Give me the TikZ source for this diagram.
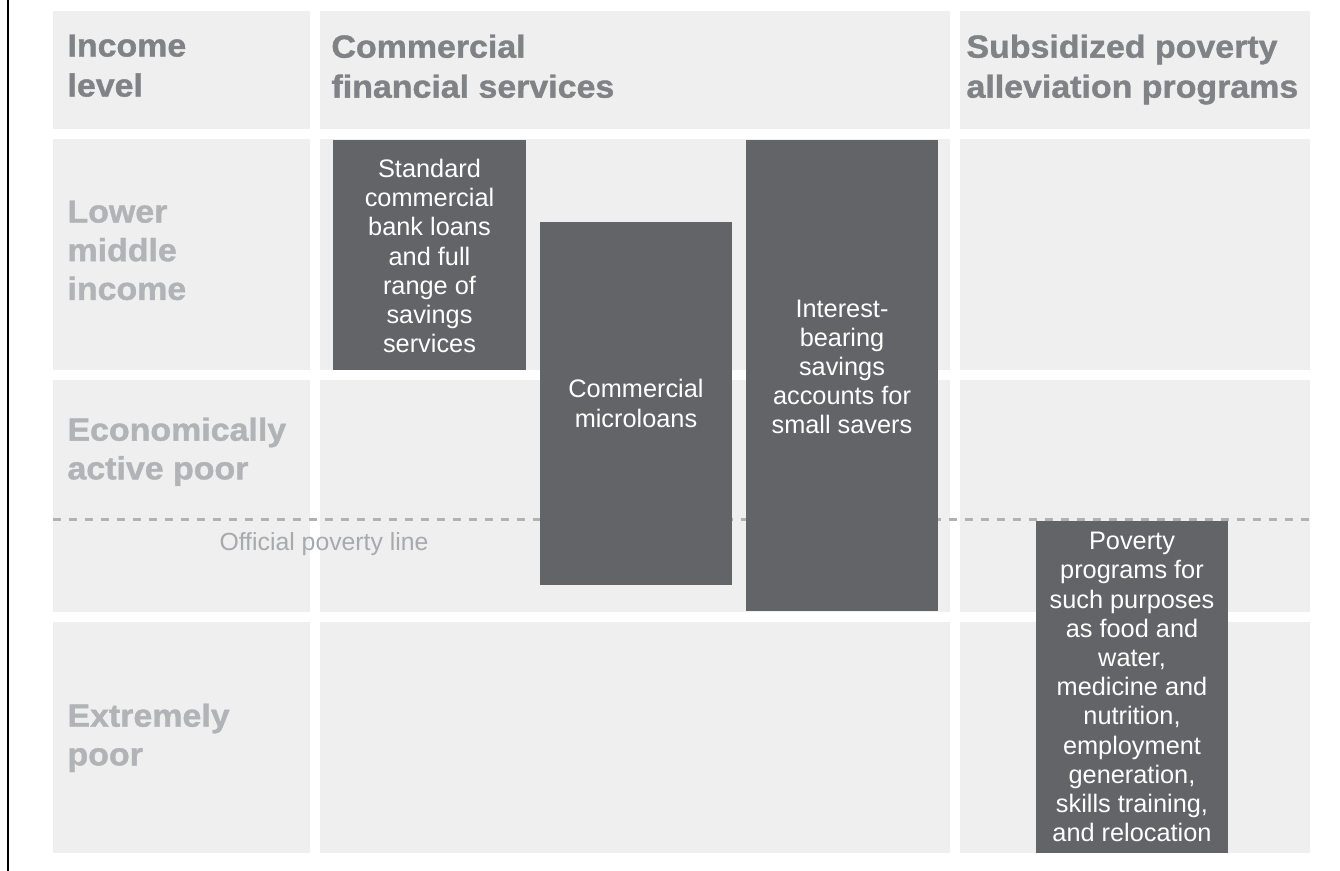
\documentclass[tikz,border=0pt]{standalone}
\usepackage{fontspec}
\setmainfont{Liberation Sans}
\newfontfamily\headfont[FakeStretch=1.06, BoldFeatures={FakeBold=1.2}]{Liberation Sans}

\definecolor{cellgray}{RGB}{239,239,239}
\definecolor{boxgray}{RGB}{99,100,103}
\definecolor{headgray}{RGB}{128,130,133}
\definecolor{rowgray}{RGB}{177,179,182}
\definecolor{linegray}{RGB}{176,178,181}
\definecolor{notegray}{RGB}{167,169,172}

\tikzset{every picture/.style={line width=0.75pt}}
\tikzset{
  cell/.style={fill=cellgray, draw=none},
  darkbox/.style={fill=boxgray, draw=none},
  headtext/.style={anchor=north west, inner sep=0pt, align=left, text=headgray, font=\headfont\bfseries\fontsize{24}{30}\selectfont},
  rowtext/.style={anchor=north west, inner sep=0pt, align=left, text=rowgray, font=\headfont\bfseries\fontsize{24}{29}\selectfont},
  boxtext/.style={inner sep=0pt, align=center, text=white, font=\fontsize{19}{21.9}\selectfont},
  povline/.style={draw=linegray, line width=2pt, dash pattern=on 6pt off 6pt},
}

\begin{document}
\begin{tikzpicture}[x=0.75pt,y=0.75pt,yscale=-1,xscale=1]
\useasboundingbox (0,0) rectangle (1340,871);

%Straight Lines: left rule
\draw [black, line width=1pt]  (8,0) -- (8,871) ;

%Shape: Rectangle -- header row
\draw [cell]  (53,11) rectangle (310,129) ;
\draw [cell]  (320,11) rectangle (950,129) ;
\draw [cell]  (960,11) rectangle (1310,129) ;
%Shape: Rectangle -- lower middle income
\draw [cell]  (53,139) rectangle (310,370) ;
\draw [cell]  (320,139) rectangle (950,370) ;
\draw [cell]  (960,139) rectangle (1310,370) ;
%Shape: Rectangle -- economically active poor
\draw [cell]  (53,380) rectangle (310,612) ;
\draw [cell]  (320,380) rectangle (950,612) ;
\draw [cell]  (960,380) rectangle (1310,612) ;
%Shape: Rectangle -- extremely poor
\draw [cell]  (53,622) rectangle (310,853) ;
\draw [cell]  (320,622) rectangle (950,853) ;
\draw [cell]  (960,622) rectangle (1310,853) ;

%Straight Lines: poverty line
\coordinate (povL) at (53,519.5);
\coordinate (povR) at (1310,519.5);
\draw [povline]  (povL) -- (povR) ;

% Text Node
\draw (219,550) node [anchor=base west, inner sep=0pt, text=notegray, font=\fontsize{18.6}{21.9}\selectfont] (povlabel) {Official poverty line};

%Shape: Rectangle -- dark boxes
\draw [darkbox]  (333,140) rectangle (526,370) ;
\draw [darkbox]  (540,222) rectangle (732,585) ;
\draw [darkbox]  (746,140) rectangle (938,611) ;
\draw [darkbox]  (1036,521) rectangle (1228,853) ;

% Text Node
\draw (429.5,256) node [boxtext] (stdloans) {Standard\\commercial\\bank loans\\and full\\range of\\savings\\services};
% Text Node
\draw (636,403.5) node [boxtext] (microloans) {Commercial\\microloans};
% Text Node
\draw (842,367) node [boxtext] (savings) {Interest-\\bearing\\savings\\accounts for\\small savers};
% Text Node
\draw (1132,687) node [boxtext] (programs) {Poverty\\programs for\\such purposes\\as food and\\water,\\medicine and\\nutrition,\\employment\\generation,\\skills training,\\and relocation};

% Text Node
\draw (67,34) node [headtext] (hincome) {Income\\level};
% Text Node
\draw (331,34) node [headtext] (hcommercial) {Commercial\\financial services};
% Text Node
\draw (966,34) node [headtext] (hsubsidized) {Subsidized poverty\\alleviation programs};

% Text Node
\draw (67,200) node [rowtext] (rlower) {Lower\\middle\\income};
% Text Node
\draw (67,417) node [rowtext] (ractive) {Economically\\active poor};
% Text Node
\draw (67,703) node [rowtext] (rextreme) {Extremely\\poor};

\end{tikzpicture}
\end{document}
